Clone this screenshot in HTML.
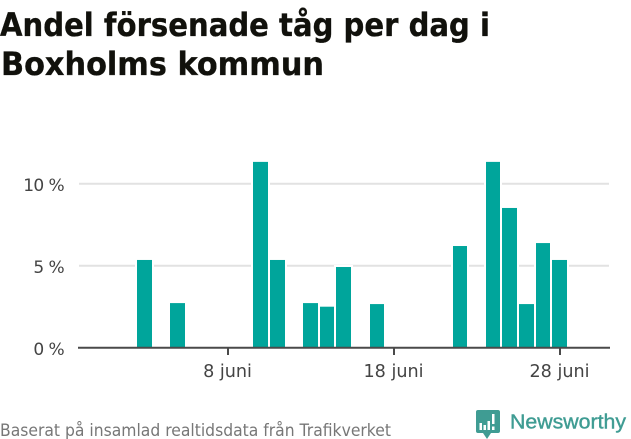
<!DOCTYPE html>
<html lang="sv">
<head>
<meta charset="utf-8">
<title>Andel försenade tåg per dag i Boxholms kommun</title>
<style>
html,body{margin:0;padding:0;background:#fff;width:631px;height:439px;overflow:hidden}
svg{display:block}
text{font-family:"DejaVu Sans","Liberation Sans",sans-serif}
</style>
</head>
<body>
<svg id="chart" xmlns="http://www.w3.org/2000/svg" width="631" height="439" viewBox="0 0 631 439">
  <text x="0" y="36" font-size="32" font-weight="700" fill="#11110c" stroke="#11110c" stroke-width="0.35" textLength="490" lengthAdjust="spacingAndGlyphs">Andel försenade tåg per dag i</text>
  <text x="1" y="75" font-size="32" font-weight="700" fill="#11110c" stroke="#11110c" stroke-width="0.35" textLength="323" lengthAdjust="spacingAndGlyphs">Boxholms kommun</text>
  <g id="grid"></g>
  <g id="bars"></g>
  <g id="axis"></g>
  <text x="0" y="436" font-size="16.5" fill="#777" textLength="391" lengthAdjust="spacingAndGlyphs">Baserat på insamlad realtidsdata från Trafikverket</text>
  <g>
    <path d="M478 410H498Q500 410 500 412V431Q500 433 498 433H491L487 439L483 433H478Q476 433 476 431V412Q476 410 478 410Z" fill="#3f9c93"/>
    <g fill="#fff">
      <rect x="479.5" y="423" width="2.5" height="7"/>
      <rect x="483.5" y="425" width="2.5" height="5"/>
      <rect x="487.5" y="421" width="2.5" height="9"/>
      <rect x="492" y="414" width="2.5" height="10"/>
      <rect x="492" y="426.5" width="2.5" height="3.5"/>
    </g>
    <text x="510" y="428.5" font-size="20" fill="#3f9c93" stroke="#3f9c93" stroke-width="0.4" style="font-family:'Liberation Sans',sans-serif" textLength="116" lengthAdjust="spacingAndGlyphs">Newsworthy</text>
  </g>
</svg>
<script>
const days = [3, 5, 10, 11, 13, 14, 15, 17, 22, 24, 25, 26, 27, 28];
const shares = [5.35, 2.72, 11.33, 5.35, 2.72, 2.5, 4.92, 2.66, 6.2, 11.33, 8.52, 2.66, 6.38, 5.35];
const yTicks = [0, 5, 10];
const yTickLabels = ['0 %', '5 %', '10 %'];
const xTicks = [8, 18, 28];
const xTickLabels = ['8 juni', '18 juni', '28 juni'];

const NS = 'http://www.w3.org/2000/svg';
const xScale = d => 227.5 + (d - 8) * 16.6;
const yScale = v => 347.7 - v * 16.4;

function make(parent, tag, props, txt) {
  const el = document.createElementNS(NS, tag);
  for (const k in props) el.setAttribute(k, props[k]);
  if (txt !== undefined) el.textContent = txt;
  parent.appendChild(el);
  return el;
}

const grid = document.getElementById('grid');
const barsG = document.getElementById('bars');
const axis = document.getElementById('axis');

yTicks.forEach((t, i) => {
  const y = yScale(t);
  if (t !== 0) {
    const line = make(grid, 'line', {x1: 79, x2: 609, y1: y, y2: y, stroke: '#e2e2e2', 'stroke-width': 2});
    
    
  }
  const label = make(axis, 'text', {x: 64, y: y + 7.5, 'text-anchor': 'end', 'font-size': 17, 'letter-spacing': -0.6, fill: '#444'}, yTickLabels[i]);
  
  
});

days.forEach((d, i) => {
  const left = Math.round(xScale(d) - 7.3);
  const right = Math.round(xScale(d) + 7.3);
  const top = yScale(shares[i]);
  const halo = make(barsG, 'rect', {x: left - 2, y: top - 2, width: right - left + 4, height: 347.7 - top + 2, fill: '#fff'});
  
  
});
days.forEach((d, i) => {
  const left = Math.round(xScale(d) - 7.3);
  const right = Math.round(xScale(d) + 7.3);
  const top = yScale(shares[i]);
  const bar = make(barsG, 'rect', {x: left, y: top, width: right - left, height: 347.7 - top, fill: '#00a59b'});
  
  
});

const axisLine = make(axis, 'line', {x1: 78, x2: 610, y1: 347.7, y2: 347.7, stroke: '#4a4a4a', 'stroke-width': 2});



xTicks.forEach((t, i) => {
  const x = Math.round(xScale(t));
  const tick = make(axis, 'line', {x1: x, x2: x, y1: 348, y2: 355, stroke: '#4a4a4a', 'stroke-width': 2});
  
  
  const label = make(axis, 'text', {x: xScale(t), y: 377, 'text-anchor': 'middle', 'font-size': 17.6, fill: '#444'}, xTickLabels[i]);
  
  
});
</script>
</body>
</html>
